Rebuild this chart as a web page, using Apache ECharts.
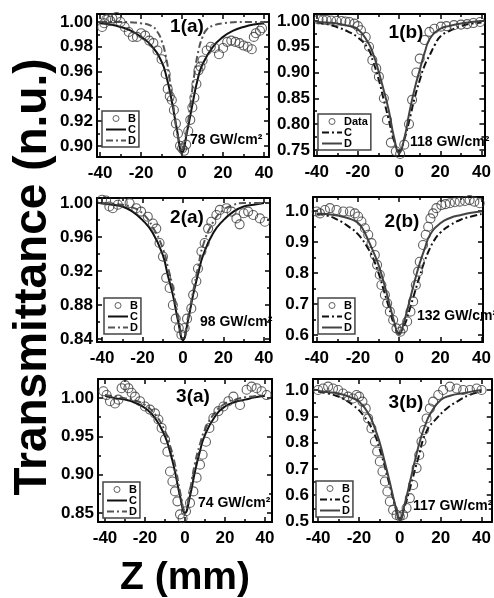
<!DOCTYPE html>
<html>
<head>
<meta charset="utf-8">
<script src="https://cdn.jsdelivr.net/npm/echarts@6/dist/echarts.min.js"></script>
<style>
html, body { margin: 0; padding: 0; background: #fff; }
#chart { width: 494px; height: 598px; }
</style>
</head>
<body>
<div id="chart"></div>
<script>
// tick labels
var xTicks = [-40, -20, 0, 20, 40];
var xMinor = [-30, -10, 10, 30];
var yTicks1a = [0.90, 0.92, 0.94, 0.96, 0.98, 1.00];
var yMinor1a = [0.91, 0.93, 0.95, 0.97, 0.99];
var yTicks1b = [0.75, 0.80, 0.85, 0.90, 0.95, 1.00];
var yMinor1b = [0.775, 0.825, 0.875, 0.925, 0.975];
var yTicks2a = [0.84, 0.88, 0.92, 0.96, 1.00];
var yMinor2a = [0.86, 0.90, 0.94, 0.98];
var yTicks2b = [0.6, 0.7, 0.8, 0.9, 1.0];
var yMinor2b = [0.65, 0.75, 0.85, 0.95];
var yTicks3a = [0.85, 0.90, 0.95, 1.00];
var yMinor3a = [0.875, 0.925, 0.975];
var yTicks3b = [0.5, 0.6, 0.7, 0.8, 0.9, 1.0];
var yMinor3b = [0.55, 0.65, 0.75, 0.85, 0.95];

// panel 1(a) 78 GW/cm2
var data1a = [[-39,0.996],[-38,0.999],[-37,1.002],[-36,1.003],[-35,1.001],[-34,1.003],[-32,1.004],[-30,1.000],[-28,0.996],[-26,0.992],[-24,0.988],[-22,0.988],[-20,0.991],[-18,0.989],[-16,0.985],[-14,0.983],[-12,0.977],[-10,0.970],[-8,0.958],[-7,0.946],[-6,0.940],[-5,0.937],[-4,0.929],[-3,0.918],[-2,0.910],[-1,0.900],[0,0.898],[1,0.896],[2,0.901],[3,0.912],[4,0.921],[5,0.931],[6,0.939],[7,0.950],[8,0.961],[9,0.964],[10,0.969],[12,0.977],[14,0.980],[16,0.979],[18,0.974],[20,0.979],[22,0.984],[24,0.985],[26,0.984],[28,0.983],[30,0.981],[32,0.980],[34,0.978],[35,0.988],[36,0.991],[38,0.993],[39,0.995]];
var solid1a = [[-40,0.999],[-35,0.998],[-30,0.996],[-25,0.993],[-20,0.988],[-15,0.981],[-10,0.968],[-7.5,0.955],[-5,0.936],[-2.5,0.913],[0,0.895],[2.5,0.912],[5,0.933],[7.5,0.953],[10,0.966],[15,0.980],[20,0.988],[25,0.993],[30,0.996],[35,0.998],[40,0.999]];
var dash1a = [[-40,1.000],[-30,1.000],[-20,0.999],[-15,0.997],[-12,0.992],[-10,0.985],[-8,0.973],[-6,0.953],[-4,0.929],[-2,0.907],[0,0.897],[2,0.910],[4,0.933],[6,0.958],[8,0.977],[10,0.988],[12,0.994],[15,0.997],[20,0.999],[30,1.000],[40,1.000]];

// panel 1(b) 118 GW/cm2
var data1b = [[-39.1,1.003],[-37,1.002],[-35.2,1.002],[-33,1.001],[-30.4,1.000],[-28,1.000],[-26,0.999],[-24.1,0.998],[-21.7,0.995],[-20,0.990],[-18.5,0.982],[-16.2,0.969],[-14.6,0.950],[-13,0.924],[-11.1,0.908],[-9.8,0.892],[-7.4,0.850],[-5.9,0.808],[-4,0.764],[-1.6,0.747],[0.5,0.742],[2.5,0.760],[4.8,0.800],[6.3,0.847],[8.4,0.900],[10,0.927],[12.4,0.963],[14.7,0.979],[17.1,0.985],[20.3,0.989],[23,0.990],[26.6,0.992],[30,0.993],[33,0.994],[36,0.996],[39.3,0.998]];
var dash1b = [[-40,0.997],[-35,0.994],[-30,0.988],[-25,0.980],[-20,0.968],[-15,0.946],[-12.5,0.920],[-10,0.888],[-7.5,0.848],[-5,0.808],[-2.5,0.768],[0,0.747],[2.5,0.770],[5,0.808],[7.5,0.850],[10,0.885],[12.5,0.915],[15,0.935],[17.5,0.955],[20,0.970],[25,0.982],[30,0.990],[35,0.995],[40,0.997]];
var solid1b = [[-40,0.998],[-35,0.997],[-30,0.995],[-25,0.991],[-20,0.984],[-15,0.958],[-12.5,0.935],[-10,0.903],[-7.5,0.866],[-5,0.826],[-2.5,0.775],[0,0.744],[2.5,0.772],[5,0.823],[7.5,0.868],[10,0.905],[12.5,0.940],[15,0.966],[20,0.985],[25,0.991],[30,0.995],[35,0.998],[40,1.000]];

// panel 2(a) 98 GW/cm2
var data2a = [[-40,1.004],[-38,1.003],[-36.4,0.996],[-34.7,0.994],[-32.2,0.998],[-29.8,1.001],[-26.4,1.000],[-23.1,0.994],[-20.7,0.990],[-17.4,0.984],[-14.9,0.976],[-13.2,0.970],[-11.6,0.953],[-9.9,0.937],[-8.3,0.912],[-6.6,0.900],[-5,0.880],[-3.6,0.864],[-2.1,0.853],[-0.8,0.845],[0.8,0.853],[2,0.864],[4.1,0.876],[5,0.892],[6.6,0.908],[7.4,0.923],[9.1,0.943],[10.7,0.953],[12.4,0.970],[14,0.978],[16.5,0.986],[18.2,0.992],[21.5,0.994],[24,0.990],[26.4,0.982],[28,0.975],[30,0.988],[32.2,0.990],[34.7,0.986],[38,0.982],[40.5,0.978]];
var solid2a = [[-40,1.000],[-35,0.998],[-30,0.996],[-25,0.990],[-20,0.980],[-15,0.965],[-10,0.939],[-7.5,0.915],[-5,0.892],[-2.5,0.862],[0,0.839],[2.5,0.862],[5,0.892],[7.5,0.917],[10,0.939],[15,0.965],[20,0.980],[25,0.990],[30,0.996],[35,0.998],[40,1.000]];
var dash2a = [[-40,1.000],[-30,0.998],[-25,0.995],[-20,0.988],[-15,0.972],[-10,0.947],[-7.5,0.925],[-5,0.900],[-2.5,0.867],[0,0.841],[2.5,0.866],[5,0.896],[7.5,0.925],[10,0.951],[15,0.978],[20,0.992],[25,0.998],[30,1.000],[40,1.000]];

// panel 2(b) 132 GW/cm2
var data2b = [[-40,0.998],[-38.4,0.992],[-36,1.003],[-33.6,1.009],[-30.4,1.003],[-27.1,0.998],[-23.9,0.998],[-21.5,0.992],[-19.9,0.982],[-18.3,0.966],[-16.6,0.944],[-15,0.923],[-13.4,0.896],[-11.8,0.858],[-10.7,0.826],[-9.4,0.794],[-8.6,0.761],[-6.9,0.729],[-5.8,0.702],[-4.5,0.675],[-2.9,0.648],[-1.3,0.621],[0.6,0.610],[1.9,0.621],[3.9,0.643],[5.5,0.675],[6.8,0.708],[8.1,0.761],[9.2,0.804],[10,0.836],[11.6,0.890],[12.9,0.923],[14.1,0.949],[15.2,0.976],[16.5,0.992],[18.1,1.009],[20.5,1.019],[22.5,1.022],[24.6,1.025],[27,1.028],[29.4,1.030],[32,1.032],[34.2,1.035],[36.5,1.030],[39.1,1.025]];
var dash2b = [[-40,0.990],[-35,0.985],[-30,0.972],[-25,0.952],[-20,0.925],[-15,0.878],[-12.5,0.845],[-10,0.800],[-7.5,0.745],[-5,0.690],[-2.5,0.635],[0,0.605],[2.5,0.630],[5,0.680],[7.5,0.735],[10,0.790],[12.5,0.840],[15,0.880],[17.5,0.910],[20,0.930],[25,0.955],[30,0.972],[35,0.982],[40,0.990]];
var solid2b = [[-40,0.992],[-35,0.990],[-30,0.985],[-25,0.977],[-20,0.962],[-17.5,0.940],[-15,0.906],[-12.5,0.868],[-10,0.826],[-7.5,0.770],[-5,0.708],[-2.5,0.645],[0,0.600],[2.5,0.645],[5,0.708],[7.5,0.772],[10,0.831],[12.5,0.880],[15,0.923],[20,0.960],[25,0.978],[30,0.987],[35,0.994],[40,0.998]];

// panel 3(a) 74 GW/cm2
var data3a = [[-40.8,1.009],[-39.2,1.004],[-37.5,0.996],[-35,0.993],[-33.3,0.998],[-31.7,1.013],[-30,1.017],[-28.3,1.013],[-26.7,1.007],[-25,1.002],[-22.5,0.996],[-20,0.989],[-17.5,0.985],[-15,0.980],[-13.3,0.972],[-11.7,0.961],[-10,0.946],[-8.8,0.930],[-7.5,0.904],[-6.3,0.891],[-5,0.878],[-3.8,0.865],[-2.5,0.848],[-1.2,0.843],[0.5,0.852],[2.5,0.863],[4.2,0.878],[5.8,0.896],[7.5,0.913],[8.8,0.926],[10.5,0.943],[12.2,0.961],[14.2,0.974],[16.7,0.983],[19.2,0.989],[21.7,0.996],[24.2,1.002],[27.5,0.991],[30.8,1.011],[33.3,1.015],[35.8,1.013],[38.3,1.009],[40.8,1.004]];
var solid3a = [[-40,1.003],[-35,1.000],[-30,0.998],[-25,0.994],[-20,0.987],[-15,0.974],[-10,0.950],[-7.5,0.930],[-5,0.904],[-2.5,0.872],[0,0.850],[2.5,0.872],[5,0.904],[7.5,0.931],[10,0.952],[15,0.976],[20,0.989],[25,0.995],[30,0.998],[35,1.001],[40,1.003]];
var dash3a = [[-40,1.004],[-30,1.000],[-25,0.997],[-20,0.991],[-15,0.979],[-10,0.957],[-7.5,0.938],[-5,0.913],[-2.5,0.878],[0,0.853],[2.5,0.880],[5,0.915],[7.5,0.940],[10,0.959],[15,0.981],[20,0.993],[25,0.998],[30,1.001],[40,1.004]];

// panel 3(b) 117 GW/cm2
var data3b = [[-40,1.000],[-37.6,1.006],[-35.1,1.013],[-32.7,1.006],[-30.2,1.000],[-27.8,0.987],[-25.3,0.975],[-22.9,0.968],[-21.2,0.981],[-19.9,0.975],[-18.3,0.956],[-16.7,0.930],[-15.5,0.892],[-13.9,0.854],[-12.2,0.804],[-11.1,0.766],[-9.8,0.728],[-8.5,0.690],[-7.3,0.652],[-6.1,0.614],[-4.9,0.576],[-3.3,0.544],[-1.6,0.525],[0,0.519],[1.6,0.525],[3.3,0.551],[4.9,0.589],[6.5,0.639],[8.2,0.703],[9.5,0.753],[10.6,0.804],[11.8,0.848],[13.1,0.892],[14.7,0.930],[16.3,0.956],[18.8,0.981],[21.2,1.000],[24.5,1.013],[27.8,1.006],[31,1.000],[34.3,1.000],[37.6,1.006],[40,1.000]];
var dash3b = [[-40,0.994],[-35,0.987],[-30,0.975],[-28,0.968],[-23,0.943],[-18,0.905],[-13,0.842],[-9,0.753],[-5,0.639],[-2.5,0.565],[0,0.506],[2.5,0.560],[5,0.627],[9,0.741],[13,0.842],[18,0.892],[23,0.930],[28,0.956],[34,0.981],[40,0.994]];
var solid3b = [[-40,0.996],[-35,0.992],[-30,0.987],[-25,0.975],[-20,0.956],[-15,0.905],[-12.5,0.860],[-10,0.804],[-7.5,0.730],[-5,0.652],[-2.5,0.570],[0,0.506],[2.5,0.570],[5,0.652],[7.5,0.735],[10,0.810],[12.5,0.868],[15,0.911],[20,0.962],[25,0.979],[30,0.987],[35,0.994],[40,1.000]];

var FONT = 'Liberation Sans';
var DASHDOT = [7, 3, 2, 3];

// layout of each panel (pixels) and which curve is which
var panels = [
  {id: '1a', grid: [97, 14, 172, 143], x: [-41.5, 42.4], y: [0.891, 1.0065], yt: yTicks1a, ym: yMinor1a, dig: 2,
   names: ['B', 'C', 'D'], data: data1a, c: solid1a, d: dash1a, cSolid: true,
   legend: [102, 111], label: '1(a)', lp: [187, 27], power: '78 GW/cm²', pp: [190, 140]},
  {id: '1b', grid: [314, 14, 174, 142], x: [-41.3, 41.4], y: [0.738, 1.0136], yt: yTicks1b, ym: yMinor1b, dig: 2,
   names: ['Data', 'C', 'D'], data: data1b, c: dash1b, d: solid1b, cSolid: false,
   legend: [318, 114], label: '1(b)', lp: [406, 33], power: '118 GW/cm²', pp: [410, 142]},
  {id: '2a', grid: [97, 198, 173, 144], x: [-42.5, 43], y: [0.8365, 1.006], yt: yTicks2a, ym: yMinor2a, dig: 2,
   names: ['B', 'C', 'D'], data: data2a, c: solid2a, d: dash2a, cSolid: true,
   legend: [104, 298], label: '2(a)', lp: [187, 218], power: '98 GW/cm²', pp: [200, 322]},
  {id: '2b', grid: [313, 197, 170, 145], x: [-41.8, 40.7], y: [0.577, 1.045], yt: yTicks2b, ym: yMinor2b, dig: 1,
   names: ['B', 'C', 'D'], data: data2b, c: dash2b, d: solid2b, cSolid: false,
   legend: [318, 298], label: '2(b)', lp: [402, 222], power: '132 GW/cm²', pp: [417, 316]},
  {id: '3a', grid: [98, 379, 174, 143], x: [-43.5, 43.5], y: [0.838, 1.025], yt: yTicks3a, ym: yMinor3a, dig: 2,
   names: ['B', 'C', 'D'], data: data3a, c: solid3a, d: dash3a, cSolid: true,
   legend: [103, 482], label: '3(a)', lp: [193, 397], power: '74 GW/cm²', pp: [198, 503]},
  {id: '3b', grid: [313, 379, 179, 143], x: [-42.5, 45], y: [0.498, 1.042], yt: yTicks3b, ym: yMinor3b, dig: 1,
   names: ['B', 'C', 'D'], data: data3b, c: dash3b, d: solid3b, cSolid: false,
   legend: [316, 481], label: '3(b)', lp: [406, 403], power: '117 GW/cm²', pp: [413, 506]}
];

// 4 axes per side: main (line, ticks, labels), minor ticks, mirrored main, mirrored minor
function axisSet(dim, g, range, majors, minors, fmt) {
  var pos = dim === 'x' ? ['bottom', 'top'] : ['left', 'right'];
  var tick = {color: '#000', width: 1.5};
  function base(p) {
    return {type: 'value', gridIndex: g, min: range[0], max: range[1], position: p,
            splitLine: {show: false}, axisLabel: {show: false},
            axisLine: {show: false, onZero: false}};
  }
  var a = base(pos[0]);
  a.axisLine = {show: true, onZero: false, lineStyle: {color: '#000', width: 2}};
  a.axisTick = {show: true, inside: true, length: 5, customValues: majors, lineStyle: tick};
  a.axisLabel = {show: true, customValues: majors, margin: dim === 'x' ? 8 : 4, formatter: fmt,
                 color: '#000', fontWeight: 'bold', fontSize: 17, fontFamily: FONT};
  var b = base(pos[0]);
  b.axisTick = {show: true, inside: true, length: 3, customValues: minors, lineStyle: tick};
  var c = base(pos[1]);
  c.axisLine = {show: true, onZero: false, lineStyle: {color: '#000', width: 2}};
  c.axisTick = {show: true, inside: true, length: 5, customValues: majors, lineStyle: tick};
  var d = base(pos[1]);
  d.axisTick = {show: true, inside: true, length: 3, customValues: minors, lineStyle: tick};
  return [a, b, c, d];
}

var grids = [], xAxes = [], yAxes = [], series = [], legends = [], texts = [];
panels.forEach(function (p, g) {
  grids.push({left: p.grid[0], top: p.grid[1], width: p.grid[2], height: p.grid[3]});
  xAxes = xAxes.concat(axisSet('x', g, p.x, xTicks, xMinor, function (v) { return String(v); }));
  yAxes = yAxes.concat(axisSet('y', g, p.y, p.yt, p.ym, function (v) { return v.toFixed(p.dig); }));
  var nB = p.id + '|' + p.names[0], nC = p.id + '|' + p.names[1], nD = p.id + '|' + p.names[2];
  var solidStyle = {color: p.cSolid ? '#111' : '#444', width: 2, type: 'solid'};
  var dashStyle = {color: p.cSolid ? '#555' : '#111', width: 2, type: DASHDOT};
  series.push({name: nC, type: 'line', xAxisIndex: g * 4, yAxisIndex: g * 4, data: p.c, smooth: true,
               symbol: 'none', color: '#111', lineStyle: p.cSolid ? solidStyle : dashStyle, z: 2});
  series.push({name: nD, type: 'line', xAxisIndex: g * 4, yAxisIndex: g * 4, data: p.d, smooth: true,
               symbol: 'none', color: p.cSolid ? '#555' : '#444', lineStyle: p.cSolid ? dashStyle : solidStyle, z: 2});
  series.push({name: nB, type: 'scatter', xAxisIndex: g * 4, yAxisIndex: g * 4, data: p.data,
               symbol: 'circle', symbolSize: 9, z: 3,
               itemStyle: {color: 'rgba(255,255,255,0)', borderColor: '#3a3a3a', borderWidth: 1.1}});
  var hideDot = {opacity: 0};
  legends.push({left: p.legend[0], top: p.legend[1], orient: 'vertical',
                data: [{name: nB, itemStyle: {borderWidth: 1}}, {name: nC, itemStyle: hideDot}, {name: nD, itemStyle: hideDot}],
                formatter: function (n) { return n.split('|')[1]; }, selectedMode: false,
                itemWidth: 20, itemHeight: 6, itemGap: 0, padding: [2, 3, 1, 3],
                borderColor: '#444', borderWidth: 1.5, backgroundColor: '#fff',
                textStyle: {fontSize: 11, fontWeight: 'bold', color: '#000', fontFamily: FONT, padding: [0, 0, 0, -3]}});
  texts.push({type: 'text', x: p.lp[0], y: p.lp[1], z: 100,
              style: {text: p.label, align: 'center', verticalAlign: 'middle', fill: '#000',
                      font: 'bold 19px "' + FONT + '"'}});
  texts.push({type: 'text', x: p.pp[0], y: p.pp[1], z: 100,
              style: {text: p.power, align: 'left', verticalAlign: 'middle', fill: '#000',
                      font: 'bold 14px "' + FONT + '"'}});
});

texts.push({type: 'text', x: 33, y: 277, rotation: Math.PI / 2, z: 100,
            style: {text: 'Transmittance (n.u.)', align: 'center', verticalAlign: 'middle', fill: '#000',
                    font: 'bold 46px "' + FONT + '"'}});
texts.push({type: 'text', x: 185, y: 578, z: 100,
            style: {text: 'Z (mm)', align: 'center', verticalAlign: 'middle', fill: '#000',
                    font: 'bold 39px "' + FONT + '"'}});

var chart = echarts.init(document.getElementById('chart'));
chart.setOption({
  animation: false,
  backgroundColor: '#fff',
  grid: grids,
  xAxis: xAxes,
  yAxis: yAxes,
  legend: legends,
  series: series,
  graphic: texts
});
</script>
</body>
</html>
